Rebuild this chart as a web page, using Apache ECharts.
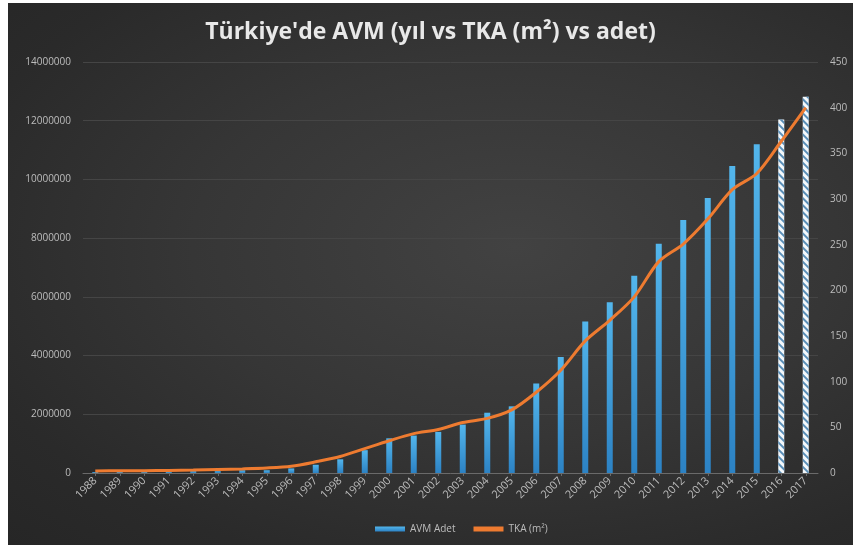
<!DOCTYPE html>
<html>
<head>
<meta charset="utf-8">
<script src="https://cdn.jsdelivr.net/npm/echarts@6/dist/echarts.min.js"></script>
<style>
  html, body { margin: 0; padding: 0; background: #ffffff; }
  #wrap { position: absolute; left: 0; top: 0; width: 853px; height: 547px; background: #ffffff; }
  #chart {
    position: absolute; left: 8px; top: 3px; width: 845px; height: 542px;
    background: radial-gradient(ellipse at 60% 45%, #424242 0%, #363636 45%, #2a2a2a 80%, #262626 100%);
  }
</style>
</head>
<body>
<div id="wrap"><div id="chart"></div></div>
<script>
const years = ['1988','1989','1990','1991','1992','1993','1994','1995','1996','1997','1998','1999','2000','2001','2002','2003','2004','2005','2006','2007','2008','2009','2010','2011','2012','2013','2014','2015','2016','2017'];
const avmAdet = [1,1,1,1,2,2,3,3,5,9,15,25,38,41,45,53,66,73,98,127,166,187,216,251,277,301,336,360,387,412];
const tka = [70000,75000,80000,85000,100000,120000,140000,170000,230000,380000,560000,830000,1100000,1340000,1480000,1720000,1860000,2150000,2750000,3500000,4500000,5200000,6000000,7200000,7800000,8650000,9650000,10200000,11300000,12450000];
const forecastYears = ['2016','2017'];
const leftTicks = [0,2000000,4000000,6000000,8000000,10000000,12000000,14000000];
const rightTicks = [0,50,100,150,200,250,300,350,400,450];

const chart = echarts.init(document.getElementById('chart'), null, {renderer: 'canvas'});
const barGrad = new echarts.graphic.LinearGradient(0, 0, 0, 1, [
  {offset: 0, color: '#53b6ec'},
  {offset: 1, color: '#2c82c4'}
]);
const barData = avmAdet.map((v, i) => {
  if (forecastYears.indexOf(years[i]) >= 0) {
    return {
      value: v,
      itemStyle: {
        color: '#f4f8fb',
        decal: {
          symbol: 'rect', symbolSize: 1, color: '#5a8fb8',
          dashArrayX: [1, 0], dashArrayY: [2, 3], rotation: Math.PI / 4
        }
      }
    };
  }
  return {value: v};
});

const labelColor = '#bdbdbd';
chart.setOption({
  backgroundColor: 'transparent',
  animation: false,
  title: {
    text: "Türkiye'de AVM (yıl vs TKA (m²) vs adet)",
    left: 'center', top: 13,
    textStyle: {color: '#e8e8e8', fontSize: 23, fontWeight: 'bold', fontFamily: 'Open Sans'}
  },
  legend: {
    bottom: 6, left: 362,
    itemWidth: 30, itemHeight: 5, itemGap: 18,
    textStyle: {color: labelColor, fontSize: 10, fontFamily: 'Open Sans'},
    data: [
      {name: 'AVM Adet', icon: 'rect'},
      {name: 'TKA (m²)', icon: 'rect', itemStyle: {color: '#ee7b30'}}
    ]
  },
  grid: {left: 75, right: 35, top: 59, bottom: 72},
  xAxis: {
    type: 'category', data: years,
    axisLine: {lineStyle: {color: '#6a6a6a', width: 1}},
    axisTick: {show: true, alignWithLabel: true, length: 3, lineStyle: {color: '#6a6a6a'}},
    axisLabel: {color: labelColor, fontSize: 11, rotate: 45, margin: 6, fontFamily: 'Open Sans'}
  },
  yAxis: [
    {
      type: 'value', min: leftTicks[0], max: leftTicks[leftTicks.length - 1], interval: 2000000,
      axisLine: {show: false}, axisTick: {show: false},
      axisLabel: {color: labelColor, fontSize: 10, margin: 12, fontFamily: 'Open Sans', formatter: v => String(v)},
      splitLine: {lineStyle: {color: '#454545', width: 1}}
    },
    {
      type: 'value', min: rightTicks[0], max: rightTicks[rightTicks.length - 1], interval: 50,
      axisLine: {show: false}, axisTick: {show: false},
      axisLabel: {color: labelColor, fontSize: 10, margin: 12, fontFamily: 'Open Sans'},
      splitLine: {show: false}
    }
  ],
  series: [
    {
      name: 'AVM Adet', type: 'bar', yAxisIndex: 1, barWidth: 6,
      itemStyle: {color: barGrad},
      data: barData
    },
    {
      name: 'TKA (m²)', type: 'line', yAxisIndex: 0, smooth: 0.3,
      showSymbol: false, symbol: 'none',
      lineStyle: {color: '#ee7b30', width: 3},
      itemStyle: {color: '#ee7b30'},
      data: tka
    }
  ]
});
</script>
</body>
</html>
